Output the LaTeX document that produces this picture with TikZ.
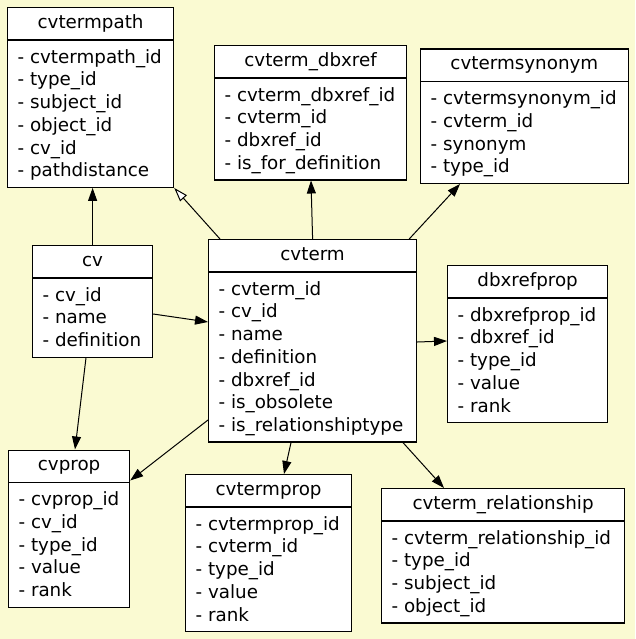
\documentclass[tikz,border=0pt]{standalone}
\usepackage{fontspec}
\setmainfont{DejaVu Sans}
\usetikzlibrary{arrows.meta,calc}
\definecolor{bgyellow}{HTML}{FAFAD2}
\tikzset{
  tblbox/.style={draw=black, line width=1.2pt, fill=white, rectangle, inner sep=0pt},
  tblline/.style={draw=black, line width=1.2pt},
  hdrtext/.style={inner sep=0pt, font=\fontsize{18.3}{22.7}\selectfont, text height=13.9pt, text depth=4.4pt},
  bodytext/.style={inner sep=0pt, align=left, font=\fontsize{18.3}{22.7}\selectfont},
  fk/.style={draw=black, line width=1pt, -{Triangle[length=13pt, width=9pt]}},
  isa/.style={draw=black, line width=1pt, -{Triangle[open, length=14pt, width=9pt, fill=white]}}
}
\newcommand\erbox[7]{%
  \node[tblbox, minimum width=#4pt, minimum height={43.5pt+22.7pt*#5}, anchor=north west] (#1) at (#2,#3) {};
  \draw[tblline] ($(#1.north west)+(0,33)$) -- ($(#1.north east)+(0,33)$);
  \node[hdrtext] (#1-h) at ($(#1.north)+(0,16.5)$) {#6};
  \node[bodytext, anchor=north west] (#1-b) at ($(#1.north west)+(10.4,42.1)$) {#7};
}
\begin{document}
\begin{tikzpicture}[x=1pt, y=-1pt]
\fill[bgyellow] (0,0) rectangle (635,639);
\useasboundingbox (0,0) rectangle (635,639);

\erbox{cvtermpath}{7}{7}{166}{6}{cvtermpath}{- cvtermpath\_id\\- type\_id\\- subject\_id\\- object\_id\\- cv\_id\\- pathdistance}
\erbox{cvtermdbxref}{214}{45}{192}{4}{cvterm\_dbxref}{- cvterm\_dbxref\_id\\- cvterm\_id\\- dbxref\_id\\- is\_for\_definition}
\erbox{cvtermsynonym}{420}{48.5}{207.5}{4}{cvtermsynonym}{- cvtermsynonym\_id\\- cvterm\_id\\- synonym\\- type\_id}
\erbox{cv}{32}{245}{120}{3}{cv}{- cv\_id\\- name\\- definition}
\erbox{cvterm}{208}{239}{208}{7}{cvterm}{- cvterm\_id\\- cv\_id\\- name\\- definition\\- dbxref\_id\\- is\_obsolete\\- is\_relationshiptype}
\erbox{dbxrefprop}{447}{265}{160}{5}{dbxrefprop}{- dbxrefprop\_id\\- dbxref\_id\\- type\_id\\- value\\- rank}
\erbox{cvprop}{8}{449.5}{121}{5}{cvprop}{- cvprop\_id\\- cv\_id\\- type\_id\\- value\\- rank}
\erbox{cvtermprop}{185}{474}{166}{5}{cvtermprop}{- cvtermprop\_id\\- cvterm\_id\\- type\_id\\- value\\- rank}
\erbox{cvtermrel}{381}{488}{243}{4}{cvterm\_relationship}{- cvterm\_relationship\_id\\- type\_id\\- subject\_id\\- object\_id}

\draw[fk] (cv.north) -- (cv.north |- cvtermpath.south);
\draw[isa] ($(cvterm.north west)+(12,0)$) -- (cvtermpath.south east);
\draw[fk] (cvterm.north) -- ($(cvtermdbxref.south west)+(97,0)$);
\draw[fk] ($(cvterm.north east)+(-8,0)$) -- ($(cvtermsynonym.south west)+(40,0)$);
\draw[fk] ($(cv.north east)+(0,69)$) -- ($(cvterm.north west)+(0,83)$);
\draw[fk] ($(cvterm.north east)+(0,103)$) -- ($(dbxrefprop.north west)+(0,76)$);
\draw[fk] ($(cv.south west)+(54,0)$) -- ($(cvprop.north west)+(67,0)$);
\draw[fk] ($(cvterm.north west)+(0,181)$) -- ($(cvprop.north east)+(0,31)$);
\draw[fk] ($(cvterm.south west)+(83,0)$) -- ($(cvtermprop.north west)+(99,0)$);
\draw[fk] ($(cvterm.south west)+(195,0)$) -- ($(cvtermrel.north west)+(63,0)$);
\end{tikzpicture}
\end{document}
